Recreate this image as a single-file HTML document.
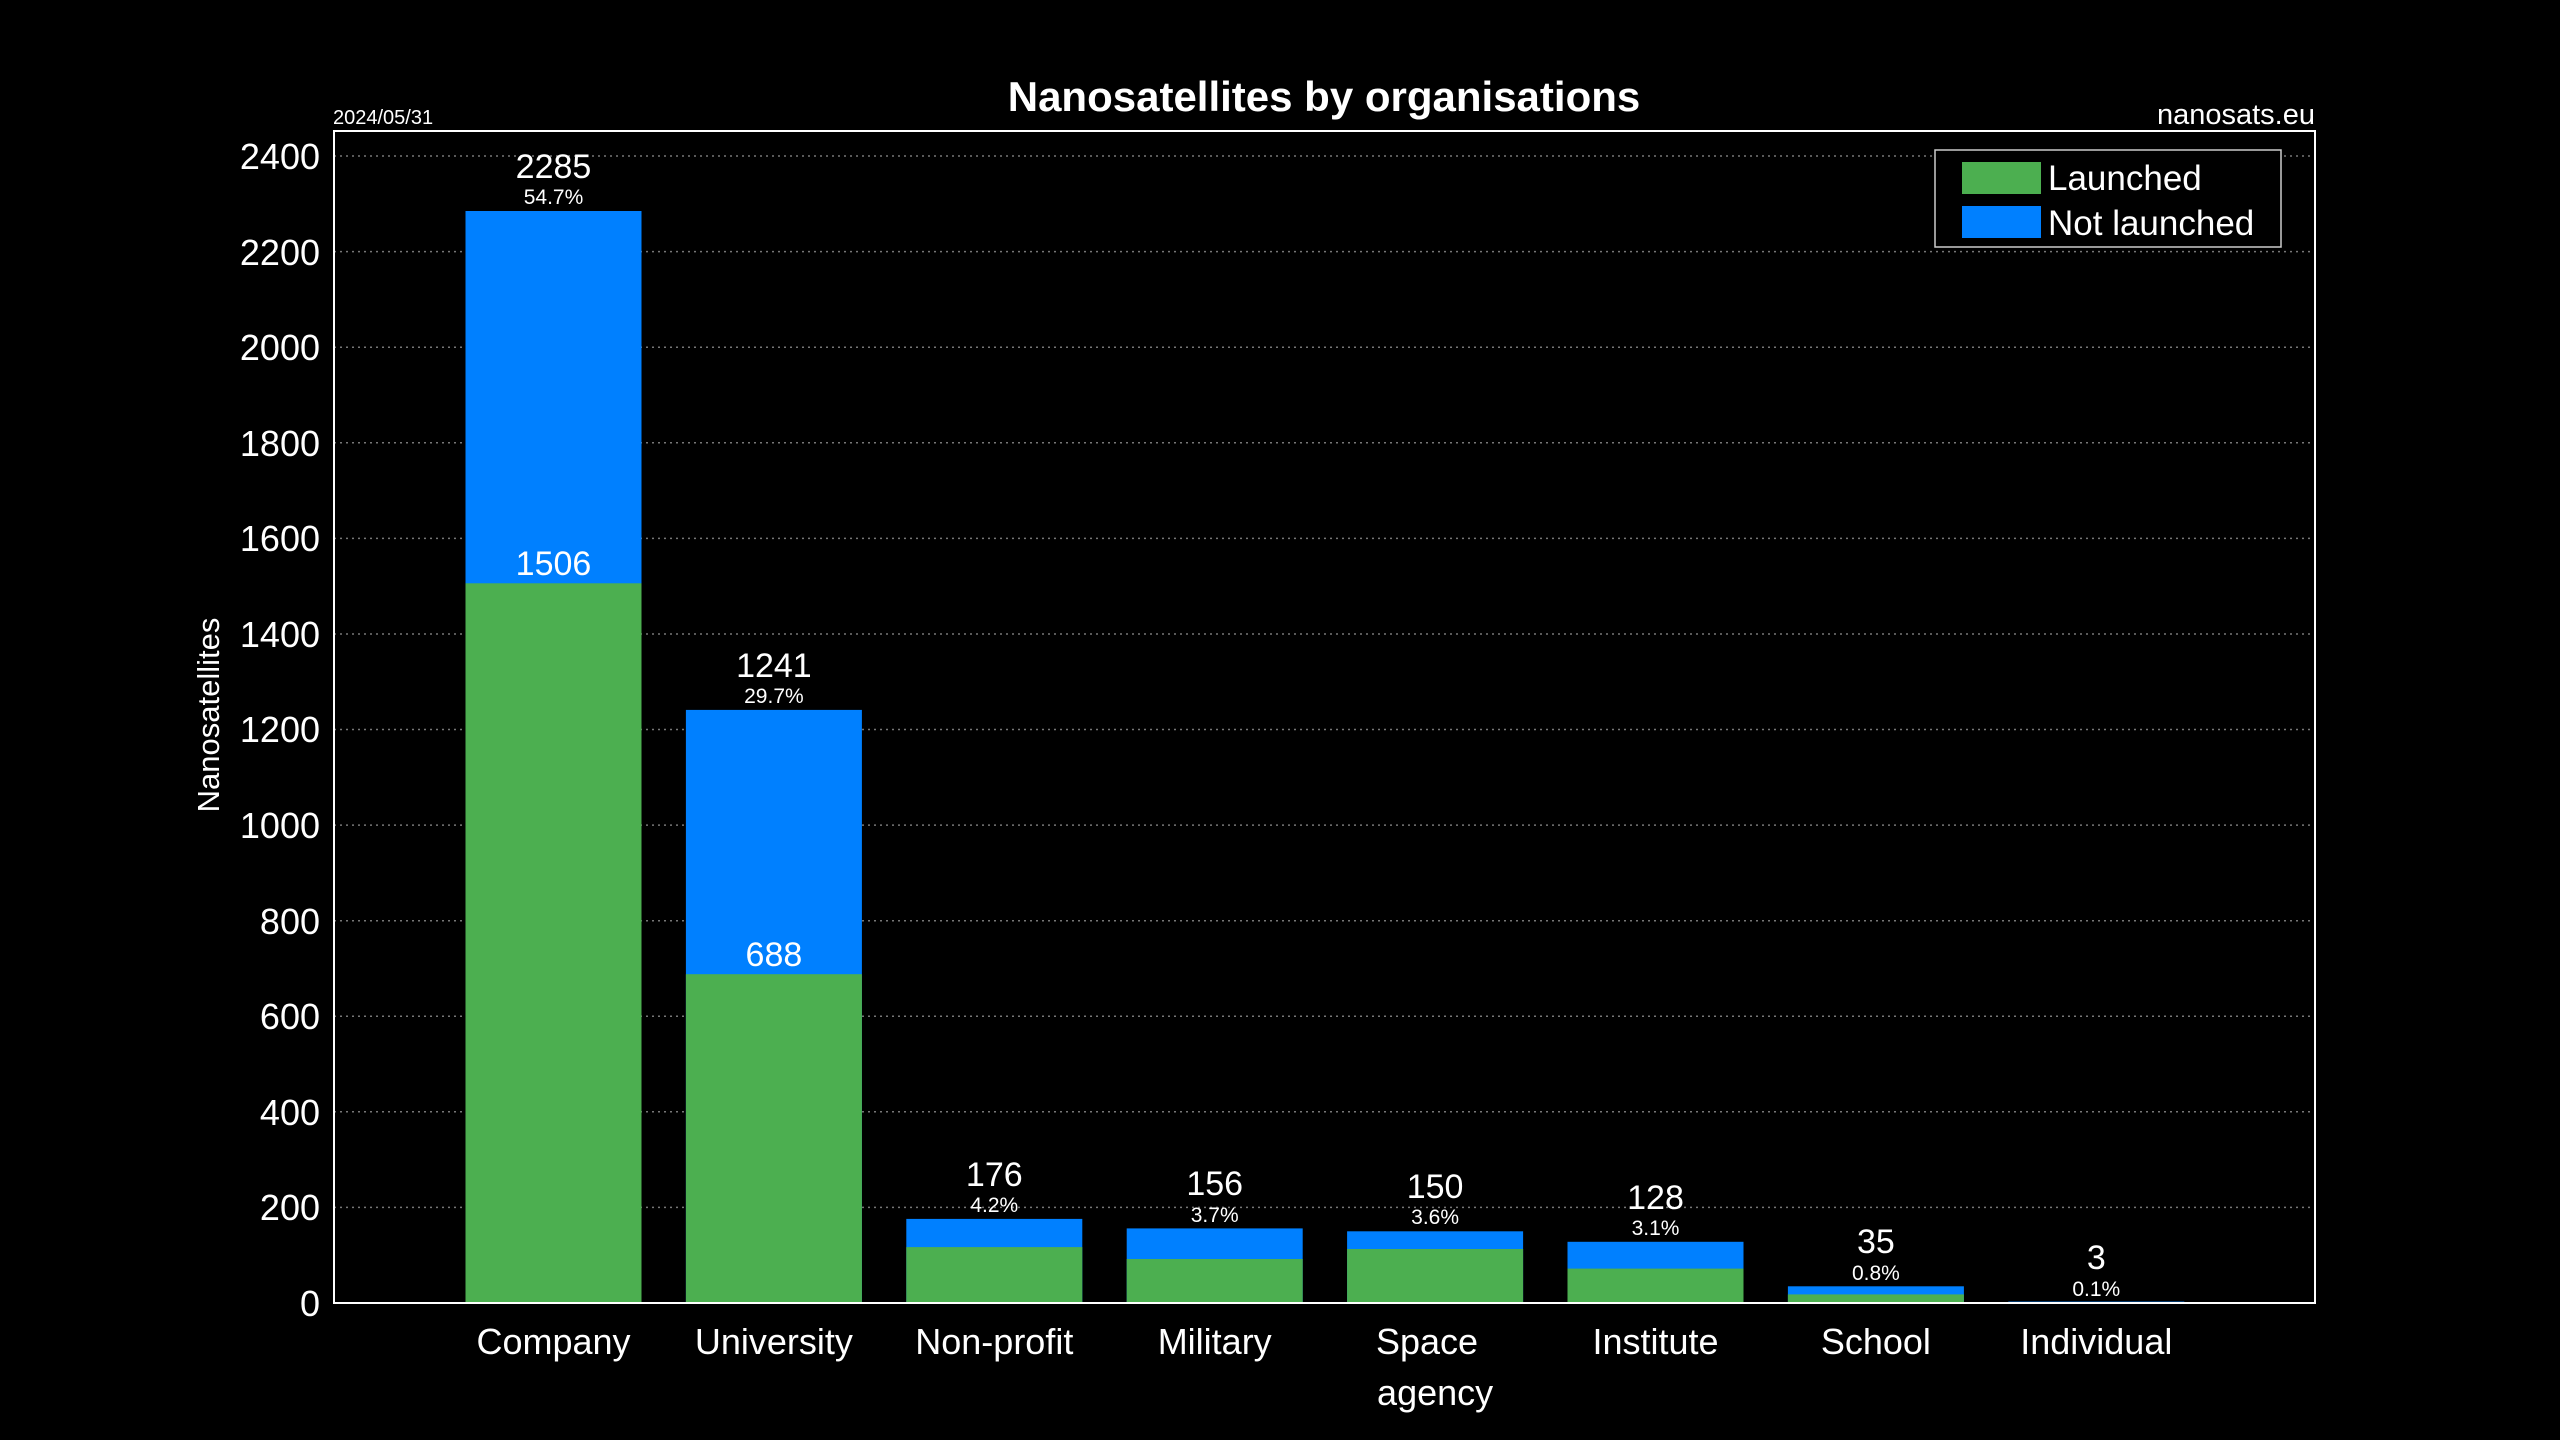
<!DOCTYPE html>
<html><head><meta charset="utf-8"><style>html,body{margin:0;padding:0;background:#000}svg{display:block}</style></head>
<body>
<svg width="2560" height="1440" xmlns="http://www.w3.org/2000/svg" font-family="Liberation Sans, sans-serif" fill="#fff">
<rect width="2560" height="1440" fill="#000"/>
<g id="grid" stroke="#777" stroke-width="1.5" stroke-dasharray="2,4">
<line x1="334" x2="2314" y1="1207.4" y2="1207.4"/>
<line x1="334" x2="2314" y1="1111.8" y2="1111.8"/>
<line x1="334" x2="2314" y1="1016.3" y2="1016.3"/>
<line x1="334" x2="2314" y1="920.7" y2="920.7"/>
<line x1="334" x2="2314" y1="825.1" y2="825.1"/>
<line x1="334" x2="2314" y1="729.5" y2="729.5"/>
<line x1="334" x2="2314" y1="634" y2="634"/>
<line x1="334" x2="2314" y1="538.4" y2="538.4"/>
<line x1="334" x2="2314" y1="442.8" y2="442.8"/>
<line x1="334" x2="2314" y1="347.2" y2="347.2"/>
<line x1="334" x2="2314" y1="251.6" y2="251.6"/>
<line x1="334" x2="2314" y1="156" y2="156"/>
</g>
<g font-size="36" text-anchor="end">
<text x="320" y="1316">0</text>
<text x="320" y="1220">200</text>
<text x="320" y="1125">400</text>
<text x="320" y="1029">600</text>
<text x="320" y="934">800</text>
<text x="320" y="838">1000</text>
<text x="320" y="742">1200</text>
<text x="320" y="647">1400</text>
<text x="320" y="551">1600</text>
<text x="320" y="456">1800</text>
<text x="320" y="360">2000</text>
<text x="320" y="265">2200</text>
<text x="320" y="169">2400</text>
</g>
<g>
<rect x="465.5" y="211" width="176" height="1092" fill="#0080ff"/>
<rect x="465.5" y="583.3" width="176" height="719.7" fill="#4caf50"/>
<rect x="685.9" y="709.9" width="176" height="593.1" fill="#0080ff"/>
<rect x="685.9" y="974.2" width="176" height="328.8" fill="#4caf50"/>
<rect x="906.3" y="1218.9" width="176" height="84.1" fill="#0080ff"/>
<rect x="906.3" y="1247.1" width="176" height="55.9" fill="#4caf50"/>
<rect x="1126.7" y="1228.4" width="176" height="74.6" fill="#0080ff"/>
<rect x="1126.7" y="1259" width="176" height="44" fill="#4caf50"/>
<rect x="1347.1" y="1231.3" width="176" height="71.7" fill="#0080ff"/>
<rect x="1347.1" y="1249" width="176" height="54" fill="#4caf50"/>
<rect x="1567.5" y="1241.8" width="176" height="61.2" fill="#0080ff"/>
<rect x="1567.5" y="1268.6" width="176" height="34.4" fill="#4caf50"/>
<rect x="1787.9" y="1286.3" width="176" height="16.7" fill="#0080ff"/>
<rect x="1787.9" y="1294.4" width="176" height="8.6" fill="#4caf50"/>
<rect x="2008.3" y="1301.6" width="176" height="1.4" fill="#0080ff"/>
</g>
<g text-anchor="middle">
<g font-size="34">
<text x="553.5" y="178">2285</text>
<text x="773.9" y="677">1241</text>
<text x="994.3" y="1186">176</text>
<text x="1214.7" y="1195">156</text>
<text x="1435.1" y="1198">150</text>
<text x="1655.5" y="1209">128</text>
<text x="1875.9" y="1253">35</text>
<text x="2096.3" y="1269">3</text>
<text x="553.5" y="575">1506</text>
<text x="773.9" y="966">688</text>
</g>
<g font-size="21">
<text x="553.5" y="204">54.7%</text>
<text x="773.9" y="703">29.7%</text>
<text x="994.3" y="1212">4.2%</text>
<text x="1214.7" y="1222">3.7%</text>
<text x="1435.1" y="1224">3.6%</text>
<text x="1655.5" y="1235">3.1%</text>
<text x="1875.9" y="1280">0.8%</text>
<text x="2096.3" y="1296">0.1%</text>
</g>
<g font-size="36">
<text x="553.5" y="1354">Company</text>
<text x="773.9" y="1354">University</text>
<text x="994.3" y="1354">Non-profit</text>
<text x="1214.7" y="1354">Military</text>
<text x="1427" y="1354">Space</text>
<text x="1435.1" y="1405">agency</text>
<text x="1655.5" y="1354">Institute</text>
<text x="1875.9" y="1354">School</text>
<text x="2096.3" y="1354">Individual</text>
</g>
<text x="1324" y="111" font-size="42" font-weight="bold">Nanosatellites by organisations</text>
</g>
<rect x="334" y="131" width="1981" height="1172" fill="none" stroke="#fff" stroke-width="2"/>
<text x="333" y="124" font-size="20">2024/05/31</text>
<text x="2315" y="124" font-size="29" text-anchor="end">nanosats.eu</text>
<text transform="translate(219,715) rotate(-90)" font-size="31" text-anchor="middle">Nanosatellites</text>
<rect x="1935" y="150" width="346" height="97" fill="#000" stroke="#ccc" stroke-width="1.5"/>
<rect x="1962" y="162" width="79" height="32" fill="#4caf50"/>
<rect x="1962" y="206" width="79" height="32" fill="#0080ff"/>
<text x="2048" y="190" font-size="35">Launched</text>
<text x="2048" y="235" font-size="35">Not launched</text>
</svg>
</body></html>
